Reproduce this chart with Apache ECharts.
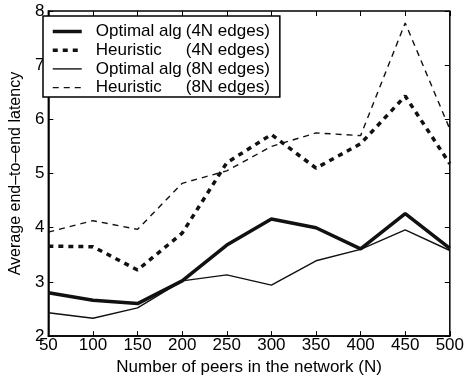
<!DOCTYPE html>
<html>
<head>
<meta charset="utf-8">
<script src="https://cdn.jsdelivr.net/npm/echarts@6/dist/echarts.min.js"></script>
<style>
  html, body { margin: 0; padding: 0; background: #fff; }
  #main { width: 467px; height: 381px; }
</style>
</head>
<body>
<div id="main"></div>
<script>
// peers in the network (N)
var peers = [50, 100, 150, 200, 250, 300, 350, 400, 450, 500];

// average end-to-end latency
var optimal4N = [2.80, 2.66, 2.60, 3.02, 3.68, 4.16, 4.00, 3.61, 4.26, 3.62];
var heuristic4N = [3.66, 3.65, 3.22, 3.90, 5.20, 5.72, 5.10, 5.55, 6.43, 5.18];
var optimal8N = [2.43, 2.33, 2.52, 3.02, 3.13, 2.94, 3.39, 3.60, 3.96, 3.58];
var heuristic8N = [3.92, 4.13, 3.97, 4.82, 5.05, 5.50, 5.75, 5.70, 7.78, 5.82];

var yTicks = [2, 3, 4, 5, 6, 7, 8];

var seriesNames = ["Optimal alg (4N edges)", "Heuristic (4N edges)", "Optimal alg (8N edges)", "Heuristic (8N edges)"];

var FONT = "Liberation Sans, Arial, Helvetica, sans-serif";

// line look per series: width, dash
var looks = [
	{ width: 3.5, type: "solid" },
	{ width: 3.5, type: [5, 5] },
	{ width: 1.4, type: "solid" },
	{ width: 1.4, type: [6, 5] }
];

var pairs = function(ys){
	var out = [];
	for(var i = 0; i < peers.length; i++){
		out.push([peers[i], ys[i]]);
	}
	return out;
}

var mkSeries = function(idx, ys){
	return {
		name: seriesNames[idx],
		type: "line",
		data: pairs(ys),
		symbol: "none",
		showSymbol: false,
		animation: false,
		lineStyle: {
			color: "#111",
			width: looks[idx].width,
			type: looks[idx].type
		},
		itemStyle: { color: "#111" }
	};
}

var legendData = seriesNames.map(function(n, i){
	return {
		name: n,
		itemStyle: { opacity: 0 },
		lineStyle: { color: "#111", width: looks[i].width, type: looks[i].type }
	};
});

var chart = echarts.init(document.getElementById("main"));

var tickStyle = { show: true, inside: true, length: 5, lineStyle: { color: "#000", width: 1 } };

chart.setOption({
	backgroundColor: "#fff",
	grid: {
		left: 37, right: 14, top: 11, bottom: 43,
		show: true, borderColor: "#000", borderWidth: 1.5,
		containLabel: false
	},
	legend: {
		orient: "vertical",
		left: 43, top: 16,
		padding: [7, 10, 1, 8],
		borderColor: "#000",
		borderWidth: 1.5,
		backgroundColor: "#fff",
		itemWidth: 29,
		itemHeight: 14,
		itemGap: 1.7,
		data: legendData,
		formatter: function(name){
			var k = name.indexOf("(");
			return "{a|" + name.substring(0, k).trim() + "}{b|" + name.substring(k) + "}";
		},
		textStyle: {
			fontFamily: FONT, fontSize: 17, color: "#000",
			rich: {
				a: { fontFamily: FONT, fontSize: 17, lineHeight: 17, color: "#000", width: 90, padding: [0, 0, 0, 9] },
				b: { fontFamily: FONT, fontSize: 17, lineHeight: 17, color: "#000" }
			}
		}
	},
	xAxis: [{
		type: "value",
		min: 50, max: 500, interval: 50,
		name: "Number of peers in the network (N)",
		nameLocation: "middle",
		nameGap: 12,
		nameTextStyle: { fontFamily: FONT, fontSize: 17, color: "#000" },
		axisLine: { show: true, lineStyle: { color: "#000", width: 1.5 } },
		axisTick: tickStyle,
		axisLabel: { fontFamily: FONT, fontSize: 17, color: "#000", margin: 1 },
		splitLine: { show: false }
	}, {
		type: "value",
		position: "top",
		min: 50, max: 500, interval: 50,
		axisLine: { show: false },
		axisTick: tickStyle,
		axisLabel: { show: false },
		splitLine: { show: false }
	}],
	yAxis: [{
		type: "value",
		min: yTicks[0], max: yTicks[yTicks.length - 1], interval: 1,
		name: "Average end\u2013to\u2013end latency",
		nameLocation: "middle",
		nameGap: 16,
		nameTextStyle: { fontFamily: FONT, fontSize: 16, color: "#000" },
		axisLine: { show: true, lineStyle: { color: "#000", width: 1.5 } },
		axisTick: tickStyle,
		axisLabel: { fontFamily: FONT, fontSize: 17, color: "#000", margin: 4 },
		splitLine: { show: false }
	}, {
		type: "value",
		position: "right",
		min: yTicks[0], max: yTicks[yTicks.length - 1], interval: 1,
		axisLine: { show: false },
		axisTick: tickStyle,
		axisLabel: { show: false },
		splitLine: { show: false }
	}],
	series: [
		mkSeries(0, optimal4N),
		mkSeries(1, heuristic4N),
		mkSeries(2, optimal8N),
		mkSeries(3, heuristic8N)
	]
});
</script>
</body>
</html>
